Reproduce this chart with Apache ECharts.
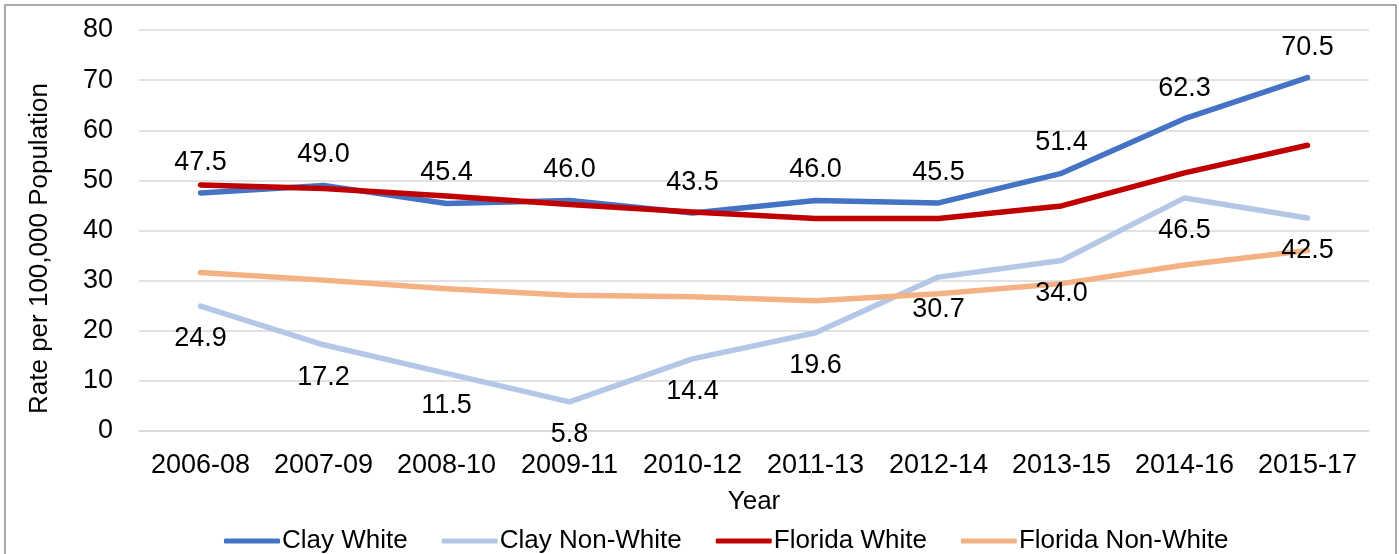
<!DOCTYPE html>
<html>
<head>
<meta charset="utf-8">
<script src="https://cdn.jsdelivr.net/npm/echarts@6/dist/echarts.min.js"></script>
<style>
html,body{margin:0;padding:0;background:#fff;}
#chart{width:1399px;height:554px;}
</style>
</head>
<body>
<div id="chart"></div>
<script>
const categories = ['2006-08','2007-09','2008-10','2009-11','2010-12','2011-13','2012-14','2013-15','2014-16','2015-17'];
const clayWhite = [47.5, 49.0, 45.4, 46.0, 43.5, 46.0, 45.5, 51.4, 62.3, 70.5];
const clayNonWhite = [24.9, 17.2, 11.5, 5.8, 14.4, 19.6, 30.7, 34.0, 46.5, 42.5];
const floridaWhite = [49.1, 48.4, 46.9, 45.2, 43.7, 42.4, 42.4, 44.9, 51.5, 57.0];
const floridaNonWhite = [31.6, 30.1, 28.4, 27.1, 26.8, 26.0, 27.4, 29.4, 33.1, 36.0];
const yTicks = [0, 80, 10];

const FONT = '"Liberation Sans", Arial, sans-serif';
const chart = echarts.init(document.getElementById('chart'));

function lineSeries(name, data, color, label) {
  const s = {
    name: name,
    type: 'line',
    data: data,
    symbol: 'circle',
    symbolSize: 0.1,
    showSymbol: true,
    lineStyle: { width: 5.5, color: color, cap: 'round', join: 'round' },
    itemStyle: { color: color },
    z: 2
  };
  if (label) {
    s.label = {
      show: true,
      position: label,
      distance: label === 'top' ? 17 : 19,
      color: '#000',
      fontFamily: FONT,
      fontSize: 27,
      formatter: p => p.value.toFixed(1)
    };
  }
  return s;
}

chart.setOption({
  animation: false,
  backgroundColor: '#fff',
  graphic: [{
    type: 'rect',
    shape: { x: 5, y: 5, width: 1391, height: 580 },
    style: { fill: 'none', stroke: '#8f8f8f', lineWidth: 1.5 },
    silent: true,
    z: -10
  }],
  grid: { left: 139, right: 30, top: 30, bottom: 123 },
  legend: {
    left: 219,
    top: 523,
    icon: 'roundRect',
    itemWidth: 56,
    itemHeight: 5,
    itemGap: 34,
    textStyle: { fontFamily: FONT, fontSize: 26, color: '#000', padding: [0, 0, 0, -3] },
    data: ['Clay White', 'Clay Non-White', 'Florida White', 'Florida Non-White']
  },
  xAxis: {
    type: 'category',
    data: categories,
    boundaryGap: true,
    name: 'Year',
    nameLocation: 'middle',
    nameGap: 58,
    nameTextStyle: { fontFamily: FONT, fontSize: 26, color: '#000' },
    axisLine: { show: true, lineStyle: { color: '#d9d9d9', width: 1.5 } },
    axisTick: { show: false },
    axisLabel: { fontFamily: FONT, fontSize: 27, color: '#000', margin: 21, interval: 0 }
  },
  yAxis: {
    type: 'value',
    min: yTicks[0],
    max: yTicks[1],
    interval: yTicks[2],
    name: 'Rate per 100,000 Population',
    nameLocation: 'middle',
    nameGap: 86,
    nameTextStyle: { fontFamily: FONT, fontSize: 26, color: '#000', padding: [0, 36, 0, 0] },
    axisLine: { show: false },
    axisTick: { show: false },
    splitLine: { lineStyle: { color: '#d9d9d9', width: 1.5 } },
    axisLabel: { fontFamily: FONT, fontSize: 27, color: '#000', margin: 26 }
  },
  series: [
    lineSeries('Clay White', clayWhite, '#4472C4', 'top'),
    lineSeries('Clay Non-White', clayNonWhite, '#B4C7E7', 'bottom'),
    lineSeries('Florida White', floridaWhite, '#C00000', null),
    lineSeries('Florida Non-White', floridaNonWhite, '#F4B183', null)
  ]
});
</script>
</body>
</html>
